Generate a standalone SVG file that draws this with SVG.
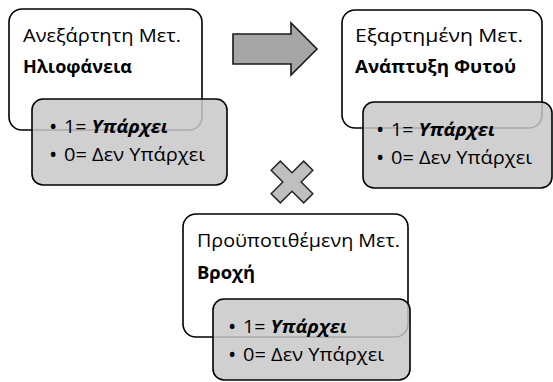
<svg xmlns="http://www.w3.org/2000/svg" width="553" height="382" viewBox="0 0 553 382">
<style>
.wbox{fill:#ffffff;stroke:#000000;stroke-width:1.6}
.gbox{fill:#c8c8c8;fill-opacity:0.85;stroke:#000000;stroke-width:1.6}
text{font-family:"Open Sans","Liberation Sans",sans-serif;fill:#000000}
.h{font-size:18.5px}
.hb{font-size:18.5px;font-weight:bold}
.b{font-size:17.5px}
.dot{font-size:22px}
.bi{font-weight:bold;font-style:italic}
.sym{fill:#a6a6a6;stroke:#1a1a1a;stroke-width:1.6;stroke-linejoin:miter}
.x{fill:#bfbfbf;stroke:#262626;stroke-width:1.5}
</style>
<rect width="553" height="382" fill="#ffffff"/>
<g id="connectors">
<polygon class="sym" points="233,34 291,34 291,23 317,49 291,75 291,64 233,64"/>
<polygon class="x" transform="translate(292,182) rotate(45)" points="-6.5,-23 6.5,-23 6.5,-6.5 23,-6.5 23,6.5 6.5,6.5 6.5,23 -6.5,23 -6.5,6.5 -23,6.5 -23,-6.5 -6.5,-6.5"/>
</g>
<g id="node-independent">
<rect class="wbox" x="9" y="9" width="193" height="121" rx="13"/>
<text class="h" x="23" y="42" textLength="158" lengthAdjust="spacingAndGlyphs">Ανεξάρτητη Μετ.</text>
<text class="hb" x="23" y="73" textLength="109" lengthAdjust="spacingAndGlyphs">Ηλιοφάνεια</text>
<rect class="gbox" x="32" y="99" width="195" height="86" rx="11"/>
<text class="dot" x="49" y="134">•</text>
<text class="b" x="64" y="133" textLength="104" lengthAdjust="spacingAndGlyphs">1= <tspan class="bi">Υπάρχει</tspan></text>
<text class="dot" x="49" y="162">•</text>
<text class="b" x="64" y="161" textLength="141" lengthAdjust="spacingAndGlyphs">0= Δεν Υπάρχει</text>
</g>
<g id="node-dependent">
<rect class="wbox" x="342" y="10" width="200" height="118" rx="13"/>
<text class="h" x="355" y="42" textLength="168" lengthAdjust="spacingAndGlyphs">Εξαρτημένη Μετ.</text>
<text class="hb" x="355" y="73" textLength="161" lengthAdjust="spacingAndGlyphs">Ανάπτυξη Φυτού</text>
<rect class="gbox" x="363" y="102" width="189" height="86" rx="11"/>
<text class="dot" x="376" y="137">•</text>
<text class="b" x="391" y="136" textLength="104" lengthAdjust="spacingAndGlyphs">1= <tspan class="bi">Υπάρχει</tspan></text>
<text class="dot" x="376" y="165">•</text>
<text class="b" x="391" y="164" textLength="141" lengthAdjust="spacingAndGlyphs">0= Δεν Υπάρχει</text>
</g>
<g id="node-moderator">
<rect class="wbox" x="183" y="214" width="225" height="123" rx="13"/>
<text class="h" x="197" y="247" textLength="203" lengthAdjust="spacingAndGlyphs">Προϋποτιθέμενη Μετ.</text>
<text class="hb" x="197" y="279" textLength="58" lengthAdjust="spacingAndGlyphs">Βροχή</text>
<rect class="gbox" x="213" y="299" width="197" height="81" rx="11"/>
<text class="dot" x="228" y="334">•</text>
<text class="b" x="243" y="333" textLength="104" lengthAdjust="spacingAndGlyphs">1= <tspan class="bi">Υπάρχει</tspan></text>
<text class="dot" x="228" y="362">•</text>
<text class="b" x="243" y="361" textLength="141" lengthAdjust="spacingAndGlyphs">0= Δεν Υπάρχει</text>
</g>
</svg>
